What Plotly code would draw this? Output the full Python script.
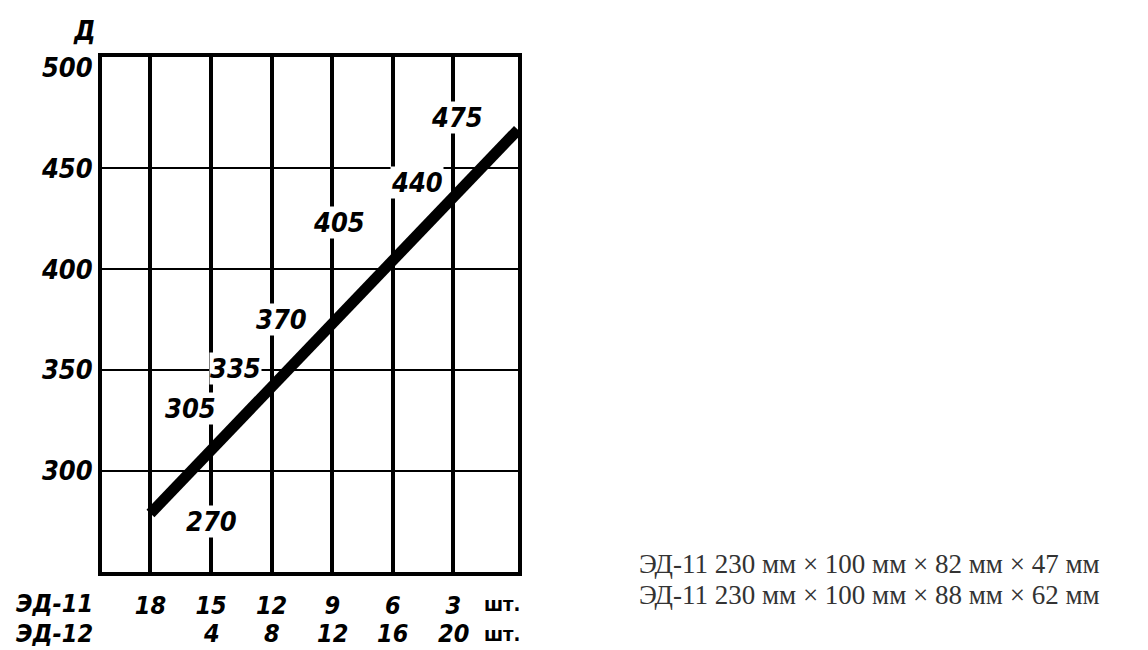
import plotly.graph_objects as go

# ── data ─────────────────────────────────────────────────────────
ed11_counts = [18, 15, 12, 9, 6, 3]          # шт. ЭД-11
ed12_counts = ["", 4, 8, 12, 16, 20]         # шт. ЭД-12
y_ticks = [300, 350, 400, 450, 500]
y_grid = [300, 350, 400, 450]

line_x = [18, -0.2]
line_y = [279, 469]

label_text = ["270", "305", "335", "370", "405", "440", "475"]
label_x = [15.0, 16.0, 13.8, 11.5, 8.65, 4.8, 2.8]
label_y = [275, 331, 351, 375, 423, 443, 475]

notes = [
    "ЭД-11 230 мм × 100 мм × 82 мм × 47 мм",
    "ЭД-11 230 мм × 100 мм × 88 мм × 62 мм",
]

GOST = "DejaVu Sans Condensed, Liberation Sans Narrow, DejaVu Sans"
lab_font = dict(family=GOST, size=27, color="black", weight="bold", style="italic")
row_font = dict(family=GOST, size=25, color="black", weight="bold", style="italic")

fig = go.Figure()
fig.add_trace(go.Scatter(
    x=line_x, y=line_y, mode="lines",
    line=dict(color="black", width=11),
    hoverinfo="skip", showlegend=False,
))

for v in y_grid:
    fig.add_hline(y=v, line=dict(color="black", width=2), layer="below")

for t, x, y in zip(label_text, label_x, label_y):
    fig.add_annotation(x=x, y=y, text=t, showarrow=False, font=lab_font,
                       bgcolor="white", borderpad=0)

# second row of counts (ЭД-12) under the axis
row_y = [-0.062, -0.12]
for x, c in zip(ed11_counts, ed12_counts):
    if c != "":
        fig.add_annotation(xref="x", yref="paper", x=x, y=row_y[1], text=str(c),
                           yanchor="middle", showarrow=False, font=row_font)

# row captions under the x axis
for name, ry in zip(["ЭД-11", "ЭД-12"], row_y):
    fig.add_annotation(xref="paper", yref="paper", x=-0.017, y=ry, text=name,
                       xanchor="right", yanchor="middle", showarrow=False,
                       font=row_font)
    fig.add_annotation(xref="x", yref="paper", x=1.6, y=ry, text="шт.",
                       xanchor="left", yanchor="middle", showarrow=False,
                       font=dict(family=GOST, size=20, color="black",
                                 weight="bold"))

fig.add_annotation(xref="paper", yref="paper", x=-0.041, y=1.052, text="Д",
                   xanchor="center", yanchor="middle", showarrow=False,
                   font=lab_font)

for i, n in enumerate(notes):
    fig.add_annotation(xref="paper", yref="paper", x=1.285, y=0.0155 - i * 0.06,
                       text=n, xanchor="left", yanchor="middle", showarrow=False,
                       font=dict(family="Liberation Serif", size=27, color="#333"))

fig.update_xaxes(
    range=[20.4, -0.2], tickvals=ed11_counts,
    showgrid=True, gridcolor="black", gridwidth=3.5,
    showline=True, linecolor="black", linewidth=4, mirror=True,
    zeroline=False, ticks="", tickfont=row_font,
    ticklabelstandoff=8, automargin=False,
)
fig.update_yaxes(
    range=[250, 505], tickvals=y_ticks, showgrid=False,
    showline=True, linecolor="black", linewidth=4, mirror=True,
    zeroline=False, ticks="", tickfont=lab_font, automargin=False,
)
# page body keeps its default 8px margin, so the figure is shifted by that
fig.update_layout(
    width=1140, height=642,
    margin=dict(l=94, r=630, t=49, b=78),
    paper_bgcolor="white", plot_bgcolor="white",
    showlegend=False,
)
fig.write_html("out.html")
